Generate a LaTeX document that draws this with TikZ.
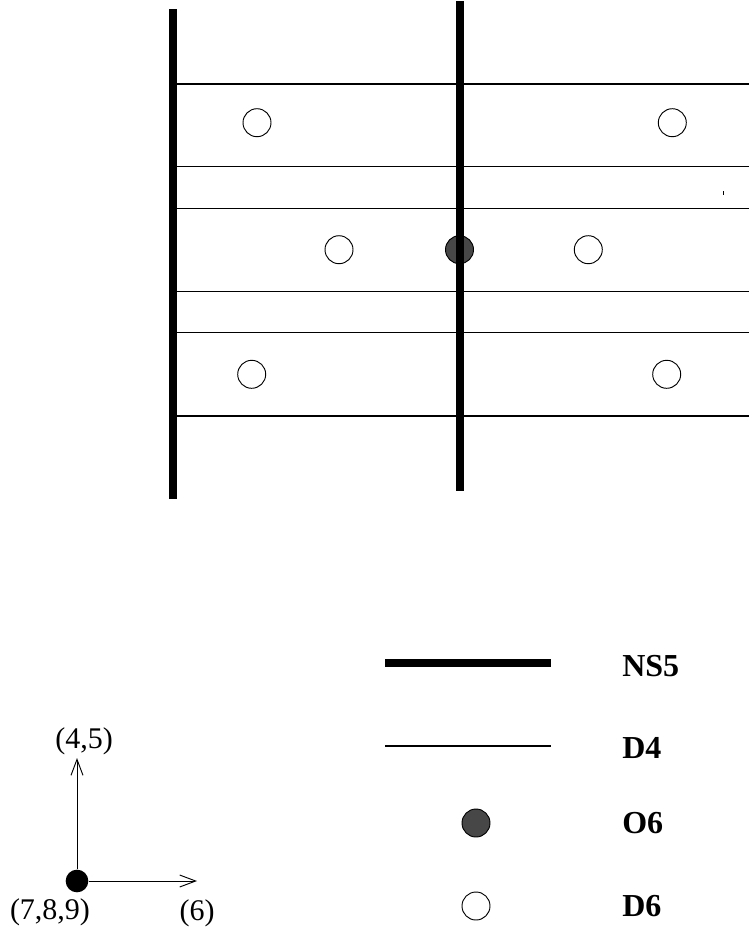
\documentclass[tikz,border=0pt]{standalone}
\usepackage{fontspec}
\setmainfont{Liberation Serif}
\usetikzlibrary{arrows.meta,positioning}
\tikzset{
  dsix/.style={circle,draw,line width=0.7pt,fill=white,minimum size=21pt,inner sep=0pt},
  osix/.style={circle,draw,line width=0.7pt,fill=black!72,minimum size=21pt,inner sep=0pt},
  nsfive/.style={line width=5.6pt},
  dfour/.style={line width=1.1pt},
  lab/.style={font=\fontsize{24}{28}\selectfont\bfseries,anchor=west,inner sep=0pt},
  axlab/.style={font=\fontsize{22.5}{27}\selectfont,inner sep=0pt},
  axis/.style={line width=0.7pt,-{Straight Barb[length=12pt,width=9pt]}},
}

\begin{document}
\begin{tikzpicture}[x=0.75pt,y=-0.75pt]
    \useasboundingbox (0,0) rectangle (749,936);

    % D4 branes
    \foreach \y in {84,166.5,208.5,291.7,332.7,416}
      \draw[dfour] (177,\y) -- (749,\y);
    \draw[line width=0.8pt] (723.7,191) -- (723.7,195);

    % D6 branes and the O6
    \node[dsix] (Da) at (257,122.7) {};
    \node[dsix] (Db) at (672.3,122.7) {};
    \node[dsix] (Dc) at (339,249.7) {};
    \node[dsix] (Dd) at (588.3,249.7) {};
    \node[dsix] (De) at (251.7,374.3) {};
    \node[dsix] (Df) at (666.7,374.3) {};
    \node[osix] (O) at (459.5,249.7) {};

    % NS5 branes
    \draw[nsfive] (173,9.3) -- (173,499);
    \draw[nsfive] (460,1) -- (460,491);

    % legend
    \draw[nsfive] (385,663) -- (551,663);
    \node[lab] (NS) at (622,666) {NS5};
    \draw[dfour] (385,746) -- (551,746);
    \node[lab] (Dfour) at (622,748) {D4};
    \node[osix] (Okey) at (476,823) {};
    \node[lab] (Osix) at (622,823) {O6};
    \node[dsix] (Dkey) at (476,906) {};
    \node[lab] (Dsix) at (622,906) {D6};

    % axes
    \node[circle,fill,inner sep=0pt,minimum size=17pt] (orig) at (77,881) {};
    \coordinate (up) at (77,758);
    \coordinate (right) at (197,881);
    \draw[axis] (orig) -- (up);
    \draw[axis] (orig) -- (right);
    \node[axlab] (ffive) at (84,741) {(4,5)};
    \node[axlab] (six) at (197,913) {(6)};
    \node[axlab] (sevnine) at (50,912) {(7,8,9)};
\end{tikzpicture}
\end{document}
